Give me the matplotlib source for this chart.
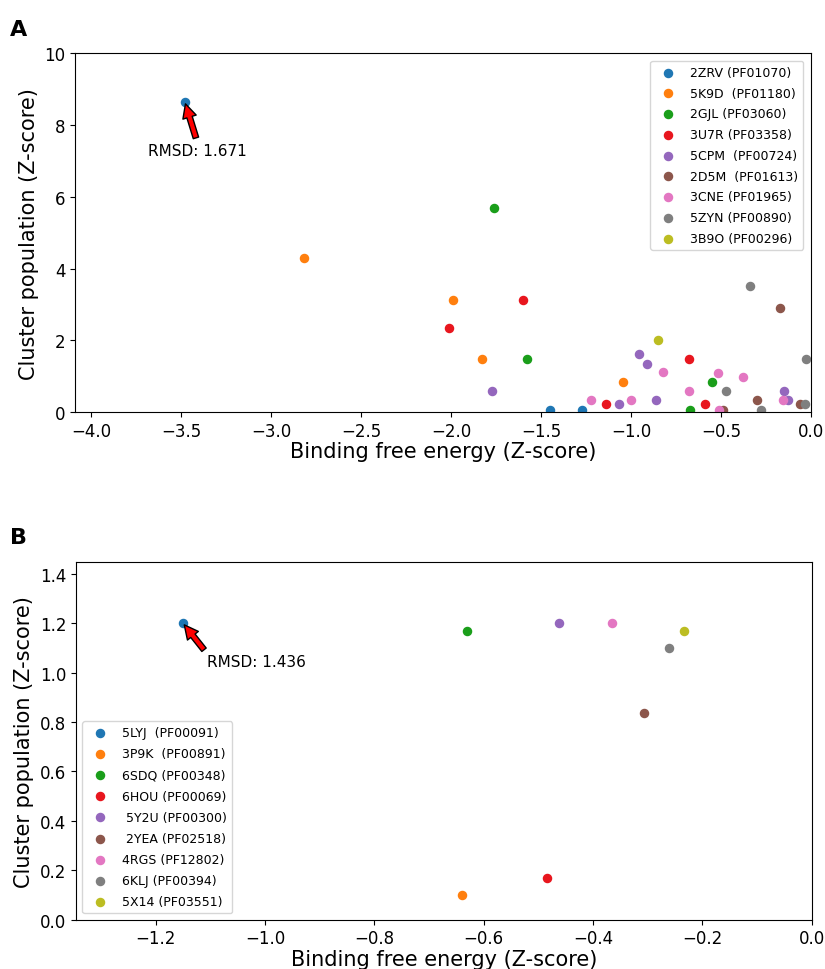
import matplotlib
matplotlib.use("Agg")
import matplotlib.pyplot as plt

# ---------------- Panel A data ----------------
labels_a = ["2ZRV (PF01070)", "5K9D  (PF01180)", "2GJL (PF03060)", "3U7R (PF03358)",
            "5CPM  (PF00724)", "2D5M  (PF01613)", "3CNE (PF01965)", "5ZYN (PF00890)",
            "3B9O (PF00296)"]
x_2zrv = [-3.48, -1.45, -1.27, -1.85]
y_2zrv = [8.65, 0.06, 0.06, -0.12]
x_5k9d = [-2.82, -1.99, -1.83, -1.046]
y_5k9d = [4.29, 3.13, 1.48, 0.83]
x_2gjl = [-1.76, -1.58, -0.55, -0.67, -0.94]
y_2gjl = [5.70, 1.48, 0.83, 0.06, -0.12]
x_3u7r = [-1.60, -2.01, -0.68, -1.14, -0.59, -1.22, -0.82]
y_3u7r = [3.13, 2.36, 1.48, 0.24, 0.24, -0.12, -0.12]
x_5cpm = [-0.955, -0.91, -1.774, -1.065, -0.86, -0.15, -0.13, -0.78]
y_5cpm = [1.61, 1.35, 0.59, 0.24, 0.34, 0.59, 0.34, -0.12]
x_2d5m = [-0.17, -0.30, -0.06, -0.49]
y_2d5m = [2.89, 0.34, 0.24, 0.06]
x_3cne = [-0.82, -0.515, -0.376, -0.68, -1.22, -1.0, -0.155, -0.51]
y_3cne = [1.11, 1.10, 0.99, 0.59, 0.34, 0.34, 0.34, 0.06]
x_5zyn = [-0.34, -0.03, -0.475, -0.035, -0.28]
y_5zyn = [3.53, 1.48, 0.59, 0.24, 0.06]
x_3b9o = [-0.85, -0.06]
y_3b9o = [2.0, -0.12]

# ---------------- Panel B data ----------------
labels_b = ["5LYJ  (PF00091)", "3P9K  (PF00891)", "6SDQ (PF00348)", "6HOU (PF00069)",
            " 5Y2U (PF00300)", " 2YEA (PF02518)", "4RGS (PF12802)", "6KLJ (PF00394)",
            "5X14 (PF03551)"]
x_b = [-1.15, -0.640, -0.630, -0.484, -0.462, -0.307, -0.365, -0.261, -0.233]
y_b = [1.20, 0.10, 1.17, 0.17, 1.20, 0.835, 1.20, 1.10, 1.17]

colors = ["#1f77b4", "#ff7f0e", "#1a9e1a", "#e8161e", "#9467bd",
          "#8c564b", "#e377c2", "#7f7f7f", "#bcbd22"]

fig = plt.figure(figsize=(8.25, 9.70), dpi=100)

arrow_style = dict(facecolor="red", edgecolor="black", shrink=0.05,
                   width=4, headwidth=10, headlength=10)

# Panel A
axA = fig.add_axes([0.091, 0.574, 0.892, 0.370])
xs_a = [x_2zrv, x_5k9d, x_2gjl, x_3u7r, x_5cpm, x_2d5m, x_3cne, x_5zyn, x_3b9o]
ys_a = [y_2zrv, y_5k9d, y_2gjl, y_3u7r, y_5cpm, y_2d5m, y_3cne, y_5zyn, y_3b9o]
for xs, ys, lab, c in zip(xs_a, ys_a, labels_a, colors):
    axA.scatter(xs, ys, s=34, color=c, label=lab)
axA.set_xlim(-4.09, 0.0)
axA.set_ylim(0, 10)
axA.set_xlabel("Binding free energy (Z-score)", fontsize=15, labelpad=1)
axA.set_ylabel("Cluster population (Z-score)", fontsize=15)
axA.tick_params(labelsize=12)
axA.legend(loc="upper right", fontsize=9, borderaxespad=0.6, labelspacing=0.62)
axA.annotate("RMSD: 1.671", xy=(x_2zrv[0], y_2zrv[0]), xytext=(-3.41, 7.30),
             ha="center", va="center", fontsize=11, arrowprops=arrow_style)

# Panel B
axB = fig.add_axes([0.092, 0.051, 0.892, 0.369])
for xv, yv, lab, c in zip(x_b, y_b, labels_b, colors):
    axB.scatter([xv], [yv], s=34, color=c, label=lab)
axB.set_xlim(-1.346, 0.0)
axB.set_ylim(0, 1.45)
axB.set_xlabel("Binding free energy (Z-score)", fontsize=15, labelpad=1)
axB.set_ylabel("Cluster population (Z-score)", fontsize=15)
axB.tick_params(labelsize=12)
axB.legend(loc="lower left", fontsize=9, borderaxespad=0.5, labelspacing=0.65)
axB.annotate("RMSD: 1.436", xy=(x_b[0], y_b[0]), xytext=(-1.015, 1.045),
             ha="center", va="center", fontsize=11, arrowprops=arrow_style)

fig.text(0.012, 1 - 30 / 970, "A", fontsize=16, fontweight="bold", va="center")
fig.text(0.012, 1 - 538 / 970, "B", fontsize=16, fontweight="bold", va="center")

fig.savefig("out.png", dpi=100)
